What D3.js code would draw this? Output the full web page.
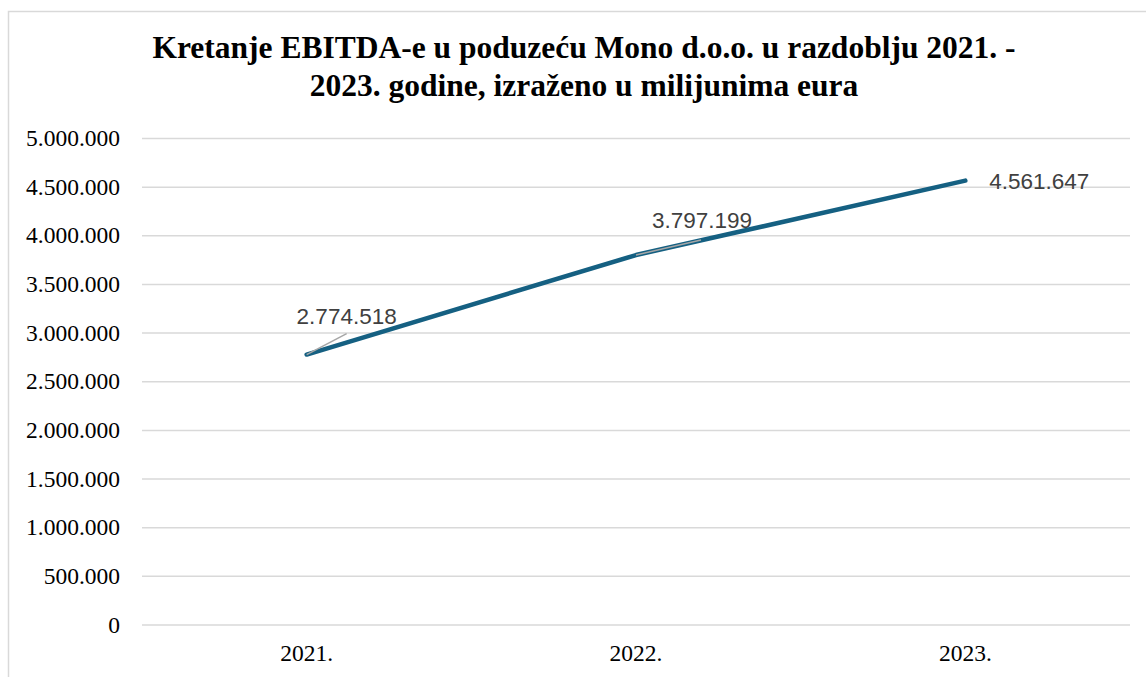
<!DOCTYPE html>
<html>
<head>
<meta charset="utf-8">
<script src="https://cdn.jsdelivr.net/npm/d3@7"></script>
<style>
	body { margin: 0; background: #fff; }
	svg { display: block; }
	.serif { font-family: 'Liberation Serif', 'Times New Roman', Times, serif; }
	.sans { font-family: 'Liberation Sans', Arial, Helvetica, sans-serif; }
</style>
</head>
<body>
<svg id="chart"></svg>
<script>
const years = ['2021.', '2022.', '2023.']
const ebitda = [2774518, 3797199, 4561647]
const yTicks = [0, 500000, 1000000, 1500000, 2000000, 2500000, 3000000, 3500000, 4000000, 4500000, 5000000]
const titleLines = [
	'Kretanje EBITDA-e u poduzeću Mono d.o.o. u razdoblju 2021. -',
	'2023. godine, izraženo u milijunima eura'
]

const width = 1146
const height = 677
const margin = { top: 138, right: 16, bottom: 52, left: 142 }

const $svg = d3.select('#chart')
	.attr('width', width)
	.attr('height', height)

const fmt = d3.formatLocale({ decimal: ',', thousands: '.', grouping: [3], currency: ['', ''] }).format(',d')

const scaleX = d3.scaleBand()
	.domain(years)
	.range([margin.left, width - margin.right])

const scaleY = d3.scaleLinear()
	.domain([0, 5000000])
	.range([height - margin.bottom - 0.5, margin.top])

// chart frame
$svg.append('rect')
	.attr('x', 8.5)
	.attr('y', 11.5)
	.attr('width', width + 10)
	.attr('height', height + 10)
	.attr('fill', 'none')
	.attr('stroke', '#d9d9d9')
	.attr('stroke-width', 1.5)

// title
$svg.append('text')
	.attr('class', 'serif')
	.attr('text-anchor', 'middle')
	.style('font-weight', 'bold')
	.style('font-size', '31.5px')
	.selectAll('tspan')
	.data(titleLines)
	.join('tspan')
	.attr('x', 584)
	.attr('y', (d, i) => 58 + i * 38)
	.text(d => d)

// y axis with gridlines
const yAxis = d3.axisLeft(scaleY)
	.tickValues(yTicks)
	.tickFormat(fmt)
	.tickSize(-(width - margin.left - margin.right))
	.tickPadding(22)

const $gY = $svg.append('g')
	.attr('transform', `translate(${margin.left},0)`)
	.call(yAxis)
	.attr('font-family', null)
	.attr('font-size', null)

$gY.select('.domain').remove()
$gY.selectAll('.tick line')
	.attr('stroke', '#d9d9d9')
	.attr('stroke-width', 1.5)
$gY.selectAll('.tick text')
	.attr('class', 'serif')
	.style('font-size', '23.5px')
	.attr('fill', '#000')

// x axis labels
const xAxis = d3.axisBottom(scaleX)
	.tickSize(0)
	.tickPadding(20)

const $gX = $svg.append('g')
	.attr('transform', `translate(0,${scaleY(0)})`)
	.call(xAxis)
	.attr('font-family', null)
	.attr('font-size', null)

$gX.select('.domain').remove()
$gX.selectAll('.tick text')
	.attr('class', 'serif')
	.style('font-size', '23.5px')
	.attr('fill', '#000')

// series line
const pts = years.map((y, i) => ({ x: scaleX(y) + scaleX.bandwidth() / 2, y: scaleY(ebitda[i]), v: ebitda[i] }))

const line = d3.line()
	.x(d => d.x)
	.y(d => d.y)

$svg.append('path')
	.datum(pts)
	.attr('d', line)
	.attr('fill', 'none')
	.attr('stroke', '#156082')
	.attr('stroke-width', 4.5)
	.attr('stroke-linecap', 'round')
	.attr('stroke-linejoin', 'round')

// data labels, offsets from each point
const labelOffsets = [[40, -31], [66, -27], [74, 8]]
const leaderEnds = [[40, -21], [65, -15], null]

$svg.append('g')
	.selectAll('line')
	.data(pts.filter((d, i) => leaderEnds[i]))
	.join('line')
	.attr('x1', d => d.x)
	.attr('y1', d => d.y)
	.attr('x2', (d, i) => d.x + leaderEnds[i][0])
	.attr('y2', (d, i) => d.y + leaderEnds[i][1])
	.attr('stroke', '#a6a6a6')
	.attr('stroke-width', 1.5)

$svg.append('g')
	.selectAll('text')
	.data(pts)
	.join('text')
	.attr('class', 'sans')
	.attr('x', (d, i) => d.x + labelOffsets[i][0])
	.attr('y', (d, i) => d.y + labelOffsets[i][1])
	.attr('text-anchor', 'middle')
	.style('font-size', '22.5px')
	.attr('fill', '#404040')
	.text(d => fmt(d.v))
</script>
</body>
</html>
